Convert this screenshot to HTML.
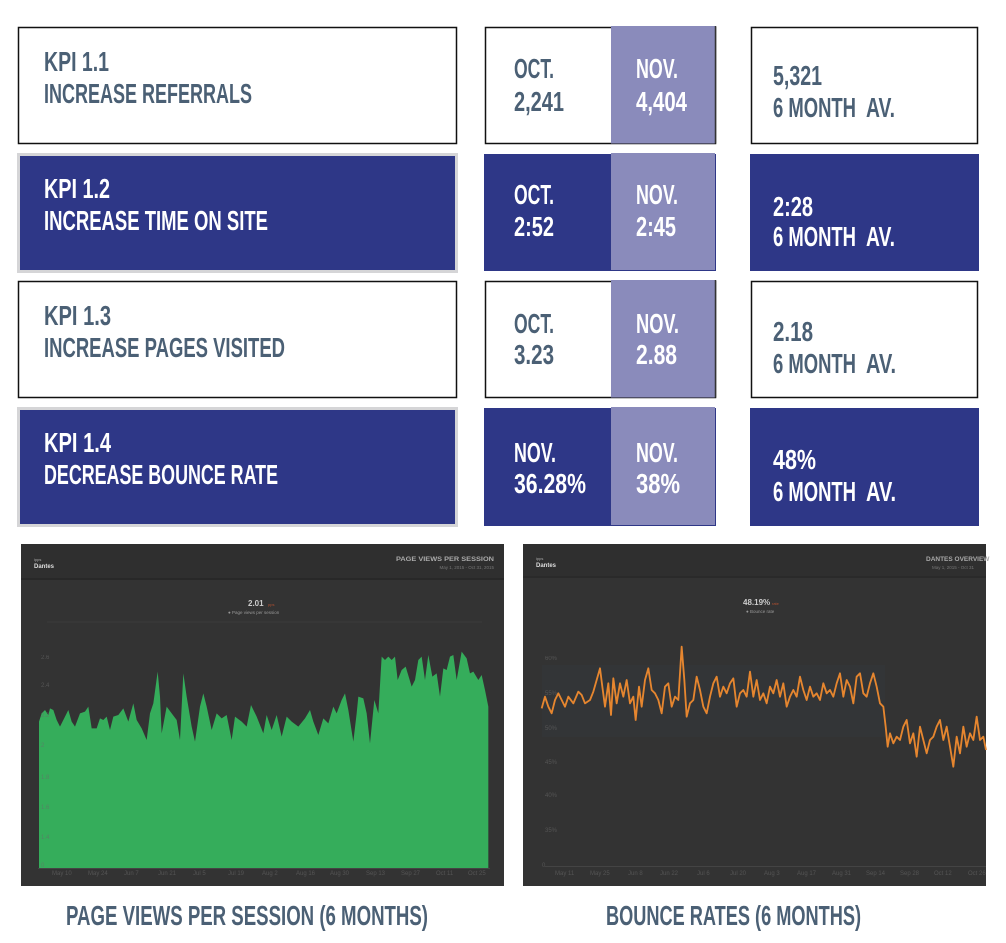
<!DOCTYPE html>
<html><head><meta charset="utf-8"><style>
html,body{margin:0;padding:0;background:#fff;width:1006px;height:943px;overflow:hidden}
svg{display:block}
.t{font-family:"Liberation Sans",Arial,sans-serif;font-weight:bold;font-size:27.5px}
.g{fill:#4b6075}
.w{fill:#ffffff}
.s{font-family:"Liberation Sans",Arial,sans-serif;fill:#6a6a6a;font-size:6px}
</style></head><body>
<svg width="1006" height="943" viewBox="0 0 1006 943" xmlns="http://www.w3.org/2000/svg">
<!-- ROW 1 -->
<rect x="18.5" y="27.5" width="438" height="116" fill="#fff" stroke="#111" stroke-width="1.5"/>
<text class="t g" x="44" y="71" textLength="65" lengthAdjust="spacingAndGlyphs">KPI 1.1</text>
<text class="t g" x="44" y="103" textLength="208" lengthAdjust="spacingAndGlyphs">INCREASE REFERRALS</text>
<rect x="485.5" y="27.5" width="230" height="116" fill="#fff" stroke="#111" stroke-width="1.5"/>
<rect x="611" y="26" width="104" height="117.5" fill="#8a8bbb"/>
<line x1="715.5" y1="26" x2="715.5" y2="143.5" stroke="#333" stroke-width="1.5"/>
<text class="t g" x="514" y="78" textLength="40" lengthAdjust="spacingAndGlyphs">OCT.</text>
<text class="t g" x="514" y="111" textLength="50" lengthAdjust="spacingAndGlyphs">2,241</text>
<text class="t w" x="636" y="78" textLength="42" lengthAdjust="spacingAndGlyphs">NOV.</text>
<text class="t w" x="636" y="111" textLength="51" lengthAdjust="spacingAndGlyphs">4,404</text>
<rect x="751.5" y="27.5" width="226" height="116" fill="#fff" stroke="#111" stroke-width="1.5"/>
<text class="t g" x="773" y="85" textLength="49" lengthAdjust="spacingAndGlyphs">5,321</text>
<text class="t g" x="773" y="117" textLength="83" lengthAdjust="spacingAndGlyphs">6 MONTH</text>
<text class="t g" x="866" y="117" textLength="29" lengthAdjust="spacingAndGlyphs">AV.</text>

<!-- ROW 2 -->
<rect x="17" y="153" width="441" height="120" fill="#d5d5d7"/>
<rect x="20" y="156" width="435" height="114" fill="#2e3787"/>
<text class="t w" x="44" y="198" textLength="66" lengthAdjust="spacingAndGlyphs">KPI 1.2</text>
<text class="t w" x="44" y="230" textLength="224" lengthAdjust="spacingAndGlyphs">INCREASE TIME ON SITE</text>
<rect x="484" y="154" width="232" height="117" fill="#2e3787"/>
<rect x="611" y="153" width="104" height="117" fill="#8a8bbb"/>
<text class="t w" x="514" y="204" textLength="40" lengthAdjust="spacingAndGlyphs">OCT.</text>
<text class="t w" x="514" y="236" textLength="40" lengthAdjust="spacingAndGlyphs">2:52</text>
<text class="t w" x="636" y="204" textLength="42" lengthAdjust="spacingAndGlyphs">NOV.</text>
<text class="t w" x="636" y="236" textLength="40" lengthAdjust="spacingAndGlyphs">2:45</text>
<rect x="750" y="154" width="229" height="117" fill="#2e3787"/>
<text class="t w" x="773" y="216" textLength="40" lengthAdjust="spacingAndGlyphs">2:28</text>
<text class="t w" x="773" y="246" textLength="83" lengthAdjust="spacingAndGlyphs">6 MONTH</text>
<text class="t w" x="866" y="246" textLength="29" lengthAdjust="spacingAndGlyphs">AV.</text>

<!-- ROW 3 -->
<rect x="18.5" y="281.5" width="438" height="116" fill="#fff" stroke="#111" stroke-width="1.5"/>
<text class="t g" x="44" y="325" textLength="67" lengthAdjust="spacingAndGlyphs">KPI 1.3</text>
<text class="t g" x="44" y="357" textLength="241" lengthAdjust="spacingAndGlyphs">INCREASE PAGES VISITED</text>
<rect x="485.5" y="281.5" width="230" height="116" fill="#fff" stroke="#111" stroke-width="1.5"/>
<rect x="611" y="280" width="104" height="117.5" fill="#8a8bbb"/>
<line x1="715.5" y1="280" x2="715.5" y2="397.5" stroke="#333" stroke-width="1.5"/>
<text class="t g" x="514" y="333" textLength="40" lengthAdjust="spacingAndGlyphs">OCT.</text>
<text class="t g" x="514" y="364" textLength="40" lengthAdjust="spacingAndGlyphs">3.23</text>
<text class="t w" x="636" y="333" textLength="43" lengthAdjust="spacingAndGlyphs">NOV.</text>
<text class="t w" x="636" y="364" textLength="41" lengthAdjust="spacingAndGlyphs">2.88</text>
<rect x="751.5" y="281.5" width="226" height="116" fill="#fff" stroke="#111" stroke-width="1.5"/>
<text class="t g" x="773" y="341" textLength="40" lengthAdjust="spacingAndGlyphs">2.18</text>
<text class="t g" x="773" y="373" textLength="83" lengthAdjust="spacingAndGlyphs">6 MONTH</text>
<text class="t g" x="866" y="373" textLength="30" lengthAdjust="spacingAndGlyphs">AV.</text>

<!-- ROW 4 -->
<rect x="17" y="407" width="441" height="120" fill="#d5d5d7"/>
<rect x="20" y="410" width="435" height="114" fill="#2e3787"/>
<text class="t w" x="44" y="452" textLength="67" lengthAdjust="spacingAndGlyphs">KPI 1.4</text>
<text class="t w" x="44" y="484" textLength="234" lengthAdjust="spacingAndGlyphs">DECREASE BOUNCE RATE</text>
<rect x="484" y="408" width="232" height="118" fill="#2e3787"/>
<rect x="611" y="407" width="104" height="118" fill="#8a8bbb"/>
<text class="t w" x="514" y="462" textLength="42" lengthAdjust="spacingAndGlyphs">NOV.</text>
<text class="t w" x="514" y="493" textLength="72" lengthAdjust="spacingAndGlyphs">36.28%</text>
<text class="t w" x="636" y="462" textLength="42" lengthAdjust="spacingAndGlyphs">NOV.</text>
<text class="t w" x="636" y="493" textLength="44" lengthAdjust="spacingAndGlyphs">38%</text>
<rect x="750" y="408" width="229" height="118" fill="#2e3787"/>
<text class="t w" x="773" y="469" textLength="43" lengthAdjust="spacingAndGlyphs">48%</text>
<text class="t w" x="773" y="501" textLength="83" lengthAdjust="spacingAndGlyphs">6 MONTH</text>
<text class="t w" x="866" y="501" textLength="30" lengthAdjust="spacingAndGlyphs">AV.</text>

<!-- LEFT CHART -->
<rect x="21" y="544" width="483" height="342" fill="#333333"/>
<rect x="21" y="544" width="483" height="34" fill="#2f2f2f"/>
<rect x="21" y="578" width="483" height="2" fill="#282828"/>
<text x="34" y="561" font-family="Liberation Sans" font-size="4" fill="#aaa">ipps</text>
<text x="34" y="568" font-family="Liberation Sans" font-weight="bold" font-size="6" fill="#ddd">Dantes</text>
<text x="494" y="561" text-anchor="end" font-family="Liberation Sans" font-weight="bold" font-size="6.5" fill="#aaa" textLength="98" lengthAdjust="spacingAndGlyphs">PAGE VIEWS PER SESSION</text>
<text x="494" y="569" text-anchor="end" font-family="Liberation Sans" font-size="4.5" fill="#777">May 1, 2015 - Oct 31, 2015</text>
<text x="248" y="606" font-family="Liberation Sans" font-weight="bold" font-size="8" fill="#ccc">2.01</text>
<text x="268" y="606" font-family="Liberation Sans" font-size="4" fill="#b05030">pps</text>
<text x="228" y="614" font-family="Liberation Sans" font-size="4.5" fill="#999">● Page views per session</text>
<line x1="47" y1="622" x2="482" y2="622" stroke="#3b3b3b" stroke-width="1"/>
<g transform="translate(15,540) scale(0.33333)">
<polygon fill="#35ad5b" points="72,985 72,545 80,520 90,510 100,525 105,505 115,510 125,540 135,560 145,540 160,510 170,545 180,560 195,520 210,515 220,500 230,565 245,565 255,535 265,540 275,530 285,570 295,530 310,525 325,505 340,545 355,490 365,540 380,565 395,600 405,520 415,490 428,395 435,470 440,580 455,500 470,520 485,540 495,600 505,400 515,470 530,560 540,605 555,500 565,460 575,500 590,570 605,520 620,535 635,525 650,600 660,530 680,545 695,560 708,495 725,530 745,580 755,525 770,570 785,525 800,590 815,530 830,545 850,560 870,535 885,510 895,545 910,585 925,535 940,550 955,500 965,520 980,480 990,460 1000,510 1015,605 1025,520 1030,470 1045,475 1055,520 1065,610 1078,480 1090,520 1100,350 1110,360 1120,350 1130,360 1140,350 1148,420 1160,390 1172,380 1190,440 1200,420 1210,360 1220,350 1230,420 1240,345 1252,410 1265,400 1275,470 1285,385 1295,390 1305,350 1315,345 1325,420 1340,335 1355,355 1365,400 1375,395 1390,420 1400,405 1410,450 1420,500 1420,985"/>
</g>
<line x1="38" y1="868.5" x2="490" y2="868.5" stroke="#444" stroke-width="1"/>
<g class="s" opacity="0.6">
<text x="41" y="659">2.6</text><text x="41" y="687">2.4</text><text x="41" y="717">2.2</text><text x="41" y="747">2</text><text x="41" y="779">1.8</text><text x="41" y="809">1.6</text><text x="41" y="839">1.4</text><text x="41" y="867">0</text>
<text x="52" y="875">May 10</text><text x="88" y="875">May 24</text><text x="124" y="875">Jun 7</text><text x="158" y="875">Jun 21</text><text x="193" y="875">Jul 5</text><text x="228" y="875">Jul 19</text><text x="262" y="875">Aug 2</text><text x="296" y="875">Aug 16</text><text x="330" y="875">Aug 30</text><text x="366" y="875">Sep 13</text><text x="401" y="875">Sep 27</text><text x="436" y="875">Oct 11</text><text x="468" y="875">Oct 25</text>
</g>

<!-- RIGHT CHART -->
<rect x="523" y="544" width="463" height="342" fill="#333333"/>
<rect x="523" y="544" width="463" height="32" fill="#2f2f2f"/>
<rect x="523" y="576" width="463" height="2" fill="#2a2a2a"/>
<text x="536" y="560" font-family="Liberation Sans" font-size="4" fill="#aaa">ipps</text>
<text x="536" y="567" font-family="Liberation Sans" font-weight="bold" font-size="6" fill="#ddd">Dantes</text>
<text x="926" y="561" font-family="Liberation Sans" font-weight="bold" font-size="6.5" fill="#aaa">DANTES OVERVIEW</text>
<text x="932" y="569" font-family="Liberation Sans" font-size="4.5" fill="#777">May 1, 2015 - Oct 31</text>
<text x="743" y="605" font-family="Liberation Sans" font-weight="bold" font-size="8" fill="#ccc">48.19%</text>
<text x="772" y="605" font-family="Liberation Sans" font-size="4" fill="#b05030">rate</text>
<text x="746" y="613" font-family="Liberation Sans" font-size="4.5" fill="#999">● Bounce rate</text>
<rect x="542" y="665" width="343" height="72" fill="#3a4250" opacity="0.18"/>
<g transform="translate(515,540) scale(0.33333)">
<polyline fill="none" stroke="#e6862f" stroke-width="5.5" stroke-linejoin="round" points="80,505 90,470 100,500 110,520 120,480 130,460 140,480 150,500 160,470 175,490 190,455 200,465 210,490 225,480 235,455 245,420 255,385 262,440 270,500 280,430 288,525 295,415 305,490 315,430 325,470 335,420 345,490 355,470 362,540 372,440 380,500 390,420 400,385 410,450 420,460 430,480 440,520 450,440 460,430 470,500 480,470 490,480 500,320 508,420 515,530 525,490 535,480 545,410 555,450 565,500 575,520 585,470 595,430 605,410 615,470 625,440 635,460 645,430 655,415 665,500 675,460 685,450 695,470 705,395 715,470 725,420 735,480 745,460 755,490 765,440 775,460 785,420 795,470 805,430 815,500 825,470 835,450 845,470 855,410 865,450 875,480 885,440 895,470 905,460 915,480 925,430 935,460 945,450 955,470 965,430 975,400 985,470 995,420 1005,440 1015,490 1025,410 1035,400 1045,460 1055,470 1065,430 1075,400 1085,440 1095,490 1105,500 1112,560 1118,620 1125,580 1135,610 1145,590 1155,600 1165,560 1175,540 1185,610 1195,580 1205,650 1215,560 1225,600 1235,640 1245,600 1255,590 1265,560 1275,540 1285,600 1295,560 1305,620 1315,680 1325,590 1335,640 1345,560 1355,620 1365,580 1375,600 1385,530 1395,600 1405,590 1413,630"/>
</g>
<line x1="545" y1="866.5" x2="986" y2="866.5" stroke="#444" stroke-width="1"/>
<g class="s" opacity="0.6">
<text x="545" y="660">60%</text><text x="545" y="695">55%</text><text x="545" y="730">50%</text><text x="545" y="764">45%</text><text x="545" y="797">40%</text><text x="545" y="832">35%</text><text x="542" y="867">0</text>
<text x="555" y="875">May 11</text><text x="590" y="875">May 25</text><text x="628" y="875">Jun 8</text><text x="660" y="875">Jun 22</text><text x="697" y="875">Jul 6</text><text x="730" y="875">Jul 20</text><text x="764" y="875">Aug 3</text><text x="797" y="875">Aug 17</text><text x="832" y="875">Aug 31</text><text x="866" y="875">Sep 14</text><text x="900" y="875">Sep 28</text><text x="934" y="875">Oct 12</text><text x="968" y="875">Oct 26</text>
</g>

<!-- CAPTIONS -->
<text class="t g" x="66" y="925" font-size="28.5" textLength="362" lengthAdjust="spacingAndGlyphs">PAGE VIEWS PER SESSION (6 MONTHS)</text>
<text class="t g" x="606" y="925" font-size="28.5" textLength="255" lengthAdjust="spacingAndGlyphs">BOUNCE RATES (6 MONTHS)</text>
</svg>
</body></html>
